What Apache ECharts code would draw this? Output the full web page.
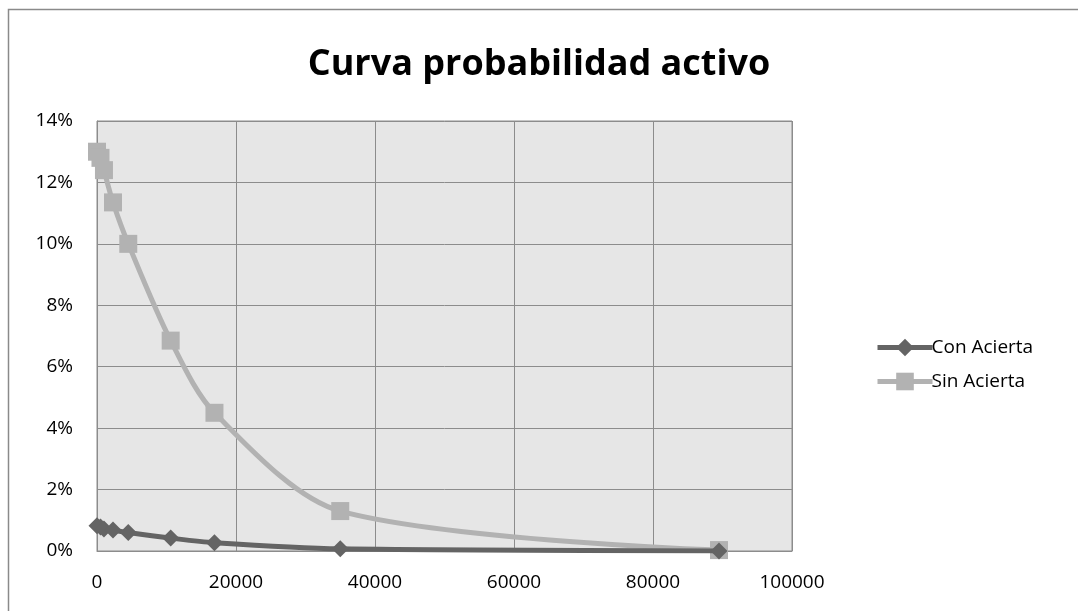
<!DOCTYPE html>
<html>
<head>
<meta charset="utf-8">
<script src="https://cdn.jsdelivr.net/npm/echarts@6/dist/echarts.min.js"></script>
<style>
  html, body { margin: 0; padding: 0; background: #fff; }
  #chart { width: 1078px; height: 611px; }
</style>
</head>
<body>
<div id="chart"></div>
<script>
// datos
const xValues = [0, 500, 1000, 2300, 4500, 10600, 16900, 35000, 89500]
const conAcierta = [0.82, 0.78, 0.72, 0.68, 0.6, 0.42, 0.27, 0.07, 0.0]
const sinAcierta = [13.0, 12.8, 12.4, 11.35, 10.0, 6.85, 4.5, 1.3, 0.03]
const seriesNames = ['Con Acierta', 'Sin Acierta']

const font = '"Open Sans", "Liberation Sans", sans-serif'
const chart = echarts.init(document.getElementById('chart'))

const pairs = vals => xValues.map((x, i) => [x, vals[i]])

const option = {
  backgroundColor: '#fff',
  animation: false,
  title: {
    text: 'Curva probabilidad activo',
    left: 534,
    textAlign: 'center',
    top: 42,
    textStyle: { fontFamily: font, fontWeight: 'bold', fontSize: 36, color: '#000' }
  },
  graphic: [{
    type: 'rect',
    shape: { x: 8.5, y: 9.5, width: 1100, height: 700 },
    style: { fill: 'none', stroke: '#8a8a8a', lineWidth: 1.5 },
    silent: true
  }],
  legend: {
    orient: 'vertical',
    left: 870,
    top: 333,
    itemWidth: 55,
    itemHeight: 22,
    itemGap: 15,
    data: seriesNames,
    lineStyle: { width: 5 },
    textStyle: { fontFamily: font, fontSize: 19, color: '#000', padding: [0, 0, 0, -6] }
  },
  grid: {
    left: 97,
    right: 286,
    top: 121,
    bottom: 60,
    show: true,
    backgroundColor: '#e6e6e6',
    borderColor: '#8c8c8c',
    borderWidth: 1
  },
  xAxis: {
    type: 'value',
    min: 0,
    max: 100000,
    interval: 20000,
    axisLine: { show: true, lineStyle: { color: '#8c8c8c' } },
    axisTick: { show: false },
    axisLabel: { fontFamily: font, fontSize: 19, color: '#000', margin: 22, formatter: v => String(v) },
    splitLine: { lineStyle: { color: '#8c8c8c', width: 1 } }
  },
  yAxis: {
    type: 'value',
    min: 0,
    max: 14,
    interval: 2,
    axisLine: { show: true, lineStyle: { color: '#8c8c8c' } },
    axisTick: { show: false },
    axisLabel: { fontFamily: font, fontSize: 19, color: '#000', margin: 24, formatter: v => v + '%' },
    splitLine: { lineStyle: { color: '#8c8c8c', width: 1 } }
  },
  series: [
    {
      name: seriesNames[0],
      type: 'line',
      smooth: 0.3,
      data: pairs(conAcierta),
      symbol: 'diamond',
      symbolSize: 17,
      lineStyle: { color: '#646464', width: 5 },
      itemStyle: { color: '#646464' },
      z: 3
    },
    {
      name: seriesNames[1],
      type: 'line',
      smooth: 0.3,
      data: pairs(sinAcierta),
      symbol: 'rect',
      symbolSize: 18,
      lineStyle: { color: '#b2b2b2', width: 5 },
      itemStyle: { color: '#b2b2b2' },
      z: 2
    }
  ]
}

chart.setOption(option)
window.addEventListener('resize', () => chart.resize())
</script>
</body>
</html>
